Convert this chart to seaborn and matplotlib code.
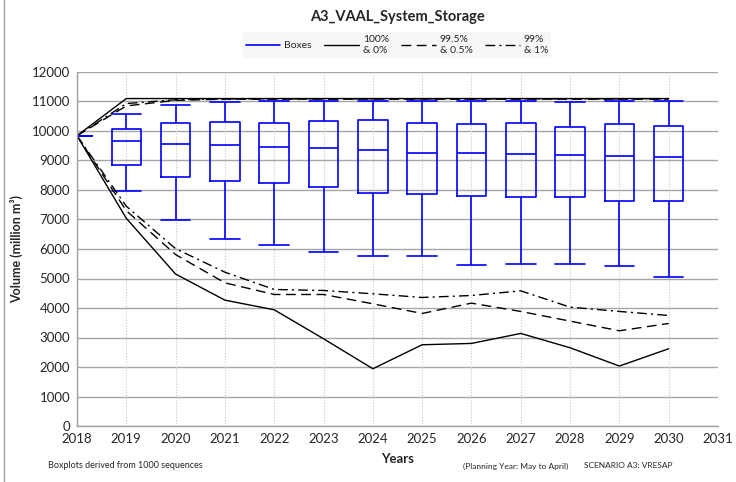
import matplotlib
matplotlib.use("Agg")
import matplotlib.pyplot as plt
from matplotlib.lines import Line2D
import numpy as np
import pandas as pd
import seaborn as sns

# ----------------------------------------------------------------------------
# Data (million m3)
# ----------------------------------------------------------------------------
years = [2018, 2019, 2020, 2021, 2022, 2023, 2024, 2025, 2026, 2027, 2028, 2029, 2030]

# boxplot five-number summaries (whiskers = min / max)
box_low  = [9840, 7966, 6983, 6350, 6136, 5910, 5763, 5751, 5446, 5503, 5503, 5424, 5040]
box_q1   = [9840, 8836, 8429, 8316, 8249, 8102, 7887, 7864, 7808, 7774, 7763, 7627, 7627]
box_med  = [9840, 9661, 9559, 9514, 9469, 9424, 9356, 9254, 9266, 9209, 9198, 9141, 9119]
box_q3   = [9840, 10068, 10260, 10294, 10271, 10328, 10373, 10282, 10226, 10271, 10147, 10237, 10181]
box_high = [9840, 10576, 10881, 10983, 11028, 11006, 11006, 11006, 11006, 11006, 10994, 11006, 11028]

# percentile envelopes
upper_100 = [9840, 11100, 11100, 11100, 11100, 11100, 11100, 11100, 11100, 11100, 11100, 11100, 11100]
lower_0   = [9840, 7040, 5150, 4266, 3939, 2957, 1941, 2754, 2799, 3138, 2652, 2032, 2619]
upper_995 = [9840, 10850, 11040, 11080, 11080, 11080, 11080, 11080, 11080, 11080, 11080, 11080, 11080]
lower_05  = [9840, 7300, 5810, 4853, 4458, 4458, 4142, 3815, 4165, 3883, 3555, 3228, 3476]
upper_99  = [9840, 10930, 11060, 11090, 11090, 11090, 11090, 11090, 11090, 11090, 11090, 11090, 11090]
lower_1   = [9840, 7450, 6010, 5214, 4628, 4594, 4481, 4357, 4424, 4582, 4029, 3883, 3747]

y_ticks = list(range(0, 12001, 1000))
x_ticks = list(range(2018, 2032))

# long form table for seaborn: 5 values per year give exactly the box stats
box_df = pd.DataFrame({
    'Year': np.repeat(years, 5),
    'Volume': np.column_stack([box_low, box_q1, box_med, box_q3, box_high]).ravel(),
})

sns.set_style('white')
plt.rcParams['font.family'] = ['Lato', 'DejaVu Sans']

fig = plt.figure(figsize=(7.36, 4.82), dpi=100)
ax = fig.add_axes([77/736, 1-426/482, (718-77)/736, (426-72)/482])

# gridlines
for yv in y_ticks:
    ax.axhline(yv, color='#a6a6a6', lw=1.0, zorder=0)
for xv in x_ticks:
    ax.axvline(xv, color='#c8c8c8', lw=0.8, ls=(0, (1, 1.5)), zorder=0)

# boxes
sns.boxplot(data=box_df, x='Year', y='Volume', native_scale=True, whis=np.inf,
            width=0.6, fill=False, color='#0000ff', linewidth=1.2,
            capwidths=0.6, showfliers=False, ax=ax)

# envelopes
solid = '-'
dashed = (0, (7, 4))
dashdot = (0, (7, 3, 1.5, 3))
for vals, ls in [(upper_100, solid), (lower_0, solid),
                 (upper_995, dashed), (lower_05, dashed),
                 (upper_99, dashdot), (lower_1, dashdot)]:
    sns.lineplot(x=years, y=vals, color='black', lw=1.0, ax=ax)
    ax.lines[-1].set_linestyle(ls)

ax.set_xlim(2018, 2031)
ax.set_ylim(0, 12000)
ax.set_xticks(x_ticks)
ax.set_yticks(y_ticks)
ax.tick_params(axis='both', labelsize=9.5, length=4, color='#a0a0a0', direction='inout', pad=3)
for s in ['top', 'right']:
    ax.spines[s].set_visible(False)
for s in ['left', 'bottom']:
    ax.spines[s].set_color('#a0a0a0')
    ax.spines[s].set_linewidth(1.0)

ax.set_xlabel('Years', fontsize=9.5, fontweight='bold', labelpad=6)
ax.set_ylabel('Volume (million m³)', fontsize=9, fontweight='bold', labelpad=6)

fig.text(397/736, 1-17/482, 'A3_VAAL_System_Storage', ha='center', va='center',
         fontsize=10.5, fontweight='bold')

handles = [
    Line2D([], [], color='#0000ff', lw=1.2),
    Line2D([], [], color='black', lw=1.0, ls=solid),
    Line2D([], [], color='black', lw=1.0, ls=dashed),
    Line2D([], [], color='black', lw=1.0, ls=dashdot),
]
labels = ['Boxes', '100%\n& 0%', '99.5%\n& 0.5%', '99%\n& 1%']
leg = fig.legend(handles, labels, loc='center', bbox_to_anchor=(397/736, 1-45/482),
                 ncol=4, fontsize=7.5, frameon=True, fancybox=False, handlelength=3.3,
                 columnspacing=1.2, handletextpad=0.4, borderpad=0.3)
leg.get_frame().set_facecolor('#f5f5f5')
leg.get_frame().set_edgecolor('none')

fig.text(48/736, 1-466/482, 'Boxplots derived from 1000 sequences', fontsize=6.5, va='center')
fig.text(568/736, 1-466/482, '(Planning Year: May to April)', fontsize=6, va='center', ha='right')
fig.text(672/736, 1-466/482, 'SCENARIO A3: VRESAP', fontsize=6, va='center', ha='right')

# outer frame edge on the left
fig.add_artist(Line2D([4/736, 4/736], [0, 1], color='#a0a0a0', lw=1.0, transform=fig.transFigure))

fig.savefig('out.png', dpi=100)
